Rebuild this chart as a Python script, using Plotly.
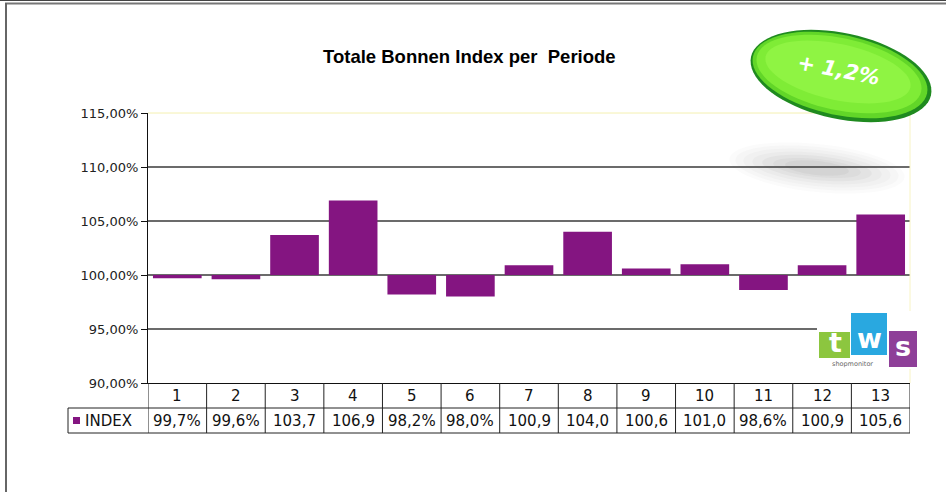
import math
import plotly.graph_objects as go

# ---- data ----
periods = ["1", "2", "3", "4", "5", "6", "7", "8", "9", "10", "11", "12", "13"]
index_values = [99.7, 99.6, 103.7, 106.9, 98.2, 98.0, 100.9, 104.0, 100.6, 101.0, 98.6, 100.9, 105.6]
index_labels = ["99,7%", "99,6%", "103,7", "106,9", "98,2%", "98,0%", "100,9",
                "104,0", "100,6", "101,0", "98,6%", "100,9", "105,6"]
y_ticks = [90, 95, 100, 105, 110, 115]
y_ticktext = ["90,00%", "95,00%", "100,00%", "105,00%", "110,00%", "115,00%"]
grid_values = [95, 100, 105, 110]
series_name = "INDEX"
badge_text = "+ 1,2%"
title_text = "Totale Bonnen Index per\u00a0 Periode"

BASE = 100
W, H = 946, 492
L, R, T, B = 148, 910, 113, 383
PURPLE = "#841581"


def px(x):
    return (x - L) / (R - L)


def py(y):
    return (B - y) / (B - T)


fig = go.Figure()
fig.add_trace(go.Bar(
    x=list(range(len(periods))),
    y=[v - BASE for v in index_values],
    base=BASE,
    marker=dict(color=PURPLE, line=dict(width=0)),
    width=0.83,
    name=series_name,
    hoverinfo="skip",
))

shapes = []
annotations = []

# gridlines
for g in grid_values:
    shapes.append(dict(type="line", xref="paper", yref="y", x0=0, x1=1, y0=g, y1=g,
                       line=dict(color="#3a3a3a", width=1.3), layer="below"))
# top / right plot border (pale yellow)
shapes.append(dict(type="line", xref="paper", yref="paper", x0=0, x1=1, y0=1, y1=1,
                   line=dict(color="#f4f0b0", width=1), layer="below"))
shapes.append(dict(type="line", xref="paper", yref="paper", x0=1, x1=1, y0=1, y1=0,
                   line=dict(color="#f8f4c4", width=1), layer="below"))

# ---- data table ----
row1_top, row1_bot, row2_bot = 383, 408, 433
tcol = "#222222"
for i in range(len(periods) + 1):
    shapes.append(dict(type="line", xref="x", yref="paper", x0=i - 0.5, x1=i - 0.5,
                       y0=py(row1_top), y1=py(row2_bot), line=dict(color=tcol, width=1)))
shapes.append(dict(type="line", xref="paper", yref="paper", x0=px(68), x1=1,
                   y0=py(row1_bot), y1=py(row1_bot), line=dict(color=tcol, width=1)))
shapes.append(dict(type="line", xref="paper", yref="paper", x0=px(68), x1=1,
                   y0=py(row2_bot), y1=py(row2_bot), line=dict(color=tcol, width=1)))
shapes.append(dict(type="line", xref="paper", yref="paper", x0=px(68), x1=px(68),
                   y0=py(row1_bot), y1=py(row2_bot), line=dict(color=tcol, width=1)))
# legend key square
shapes.append(dict(type="rect", xref="paper", yref="paper", x0=px(73), x1=px(80),
                   y0=py(417), y1=py(424), fillcolor=PURPLE, line=dict(width=0)))

tfont = dict(family="DejaVu Sans", size=15, color="#111111")
for i, p in enumerate(periods):
    annotations.append(dict(x=i, y=py((row1_top + row1_bot) / 2), xref="x", yref="paper",
                            text=p, showarrow=False, font=tfont, xanchor="center", yanchor="middle"))
for i, lab in enumerate(index_labels):
    annotations.append(dict(x=i, y=py((row1_bot + row2_bot) / 2), xref="x", yref="paper",
                            text=lab, showarrow=False, font=tfont, xanchor="center", yanchor="middle"))
annotations.append(dict(x=px(83), y=py((row1_bot + row2_bot) / 2), xref="paper", yref="paper",
                        text=series_name, showarrow=False, font=tfont, xanchor="left", yanchor="middle"))

# ---- title ----
annotations.append(dict(x=px(469), y=py(56), xref="paper", yref="paper", text="<b>%s</b>" % title_text,
                        showarrow=False, font=dict(family="Liberation Sans", size=18.5, color="#000000"),
                        xanchor="center", yanchor="middle"))


def ellipse_path(cx, cy, a, b, ang_deg, n=72):
    th = math.radians(ang_deg)
    pts = []
    for k in range(n):
        t = 2 * math.pi * k / n
        ex, ey = a * math.cos(t), b * math.sin(t)
        x = cx + ex * math.cos(th) - ey * math.sin(th)
        y = cy + ex * math.sin(th) + ey * math.cos(th)
        pts.append("%.5f,%.5f" % (px(x), py(y)))
    return "M " + " L ".join(pts) + " Z"


# soft shadow under the badge
for a, b, op in [(88, 24, 0.022), (82, 21, 0.027), (74, 18, 0.032), (65, 15, 0.037),
                 (55, 12, 0.042), (44, 9, 0.047), (32, 7, 0.05)]:
    shapes.append(dict(type="path", xref="paper", yref="paper", path=ellipse_path(817, 168, a, b, 6),
                       fillcolor="rgba(80,80,80,%.3f)" % op, line=dict(width=0), layer="above"))

# green badge
shapes.append(dict(type="path", xref="paper", yref="paper", path=ellipse_path(841, 76, 92, 43, 12),
                   fillcolor="#1f8a1f", line=dict(width=0), layer="above"))
shapes.append(dict(type="path", xref="paper", yref="paper", path=ellipse_path(840, 75, 89, 40, 12),
                   fillcolor="#62d628", line=dict(width=0), layer="above"))
shapes.append(dict(type="path", xref="paper", yref="paper", path=ellipse_path(839, 74, 84, 36, 12),
                   fillcolor="#7fec36", line=dict(width=0), layer="above"))
shapes.append(dict(type="path", xref="paper", yref="paper", path=ellipse_path(838, 72, 74, 28, 12),
                   fillcolor="#8ff443", line=dict(width=0), layer="above"))
annotations.append(dict(x=px(838), y=py(70), xref="paper", yref="paper", text="<b><i>%s</i></b>" % badge_text,
                        showarrow=False, textangle=11,
                        font=dict(family="DejaVu Sans", size=21, color="#ffffff"),
                        xanchor="center", yanchor="middle"))

# tws logo
shapes.append(dict(type="rect", xref="paper", yref="paper", x0=px(817), x1=px(920), y0=py(311), y1=py(369),
                   fillcolor="#ffffff", line=dict(width=0), layer="above"))
logo = [(819, 850, 332, 358, "#8cc63f"), (851, 887, 313, 355, "#29a8e0"),
        (889, 917, 331, 367, "#8e3f98")]
for x0, x1, y0, y1, c in logo:
    shapes.append(dict(type="rect", xref="paper", yref="paper", x0=px(x0), x1=px(x1), y0=py(y1), y1=py(y0),
                       fillcolor=c, line=dict(width=0), layer="above"))
annotations.append(dict(x=px(835), y=py(342), xref="paper", yref="paper", text="<b>t</b>", showarrow=False,
                        font=dict(family="DejaVu Sans", size=27, color="#ffffff"), xanchor="center", yanchor="middle"))
annotations.append(dict(x=px(869), y=py(338), xref="paper", yref="paper", text="<b>w</b>", showarrow=False,
                        font=dict(family="DejaVu Sans", size=27, color="#ffffff"), xanchor="center", yanchor="middle"))
annotations.append(dict(x=px(903), y=py(346), xref="paper", yref="paper", text="<b>s</b>", showarrow=False,
                        font=dict(family="DejaVu Sans", size=27, color="#ffffff"), xanchor="center", yanchor="middle"))
annotations.append(dict(x=px(852), y=py(364), xref="paper", yref="paper", text="shopmonitor", showarrow=False,
                        font=dict(family="DejaVu Sans", size=6.5, color="#666666"), xanchor="center", yanchor="middle"))

# window frame
shapes.append(dict(type="line", xref="paper", yref="paper", x0=px(0), x1=px(W), y0=py(0.5), y1=py(0.5),
                   line=dict(color="#444444", width=1), layer="above"))
shapes.append(dict(type="line", xref="paper", yref="paper", x0=px(5), x1=px(W), y0=py(3.5), y1=py(3.5),
                   line=dict(color="#777777", width=2), layer="above"))
shapes.append(dict(type="line", xref="paper", yref="paper", x0=px(6), x1=px(6), y0=py(3), y1=py(H),
                   line=dict(color="#666666", width=2), layer="above"))

fig.update_layout(
    width=W, height=H,
    margin=dict(l=L, r=W - R, t=T, b=H - B),
    paper_bgcolor="#ffffff", plot_bgcolor="#ffffff",
    showlegend=False,
    bargap=0.17,
    shapes=shapes,
    annotations=annotations,
    xaxis=dict(range=[-0.5, len(periods) - 0.5], showticklabels=False, showgrid=False, zeroline=False,
               showline=True, linecolor="#111111", linewidth=1, ticks=""),
    yaxis=dict(range=[90, 115], tickvals=y_ticks, ticktext=y_ticktext, showgrid=False, zeroline=False,
               showline=True, linecolor="#111111", linewidth=1, ticks="outside", ticklen=6,
               tickcolor="#111111", tickfont=dict(family="DejaVu Sans", size=13, color="#222222")),
)

fig.write_html("out.html", config={"displayModeBar": False},
               post_script="document.body.style.margin='0';")
